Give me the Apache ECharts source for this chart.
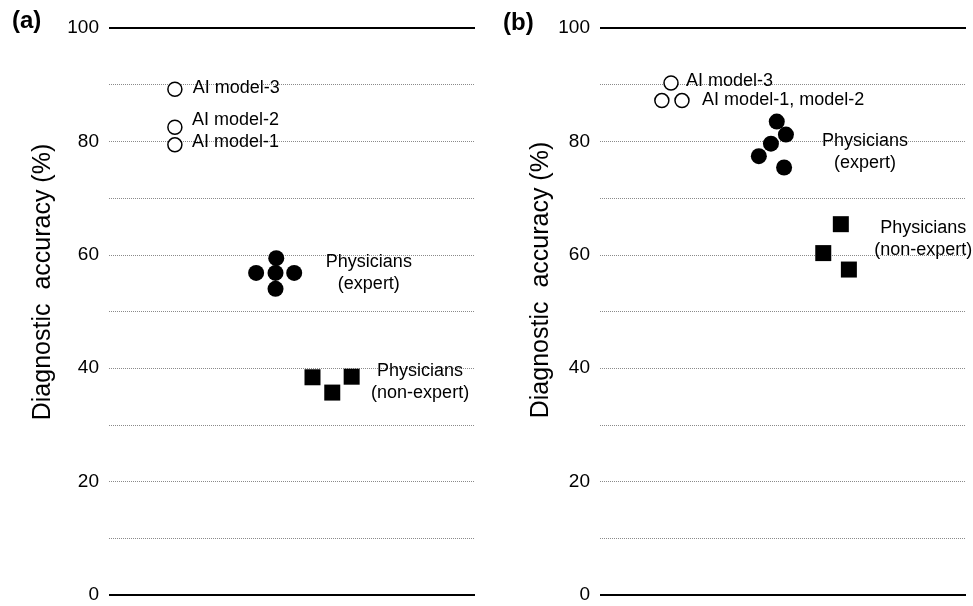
<!DOCTYPE html>
<html>
<head>
<meta charset="utf-8">
<script src="https://cdn.jsdelivr.net/npm/echarts@6/dist/echarts.min.js"></script>
<style>
  html, body { margin: 0; padding: 0; background: #fff; }
  #main { width: 973px; height: 606px; }
</style>
</head>
<body>
<div id="main"></div>
<script>
// y ticks (labels every 20, gridlines every 10)
var yTicks = [0, 20, 40, 60, 80, 100];

// panel (a): [x position, accuracy %]
var aAI = [[18.0, 89.2], [18.0, 82.5], [18.0, 79.4]];
var aExpert = [[45.7, 59.4], [40.2, 56.8], [45.5, 56.8], [50.6, 56.8], [45.5, 54.0]];
var aNonExpert = [[55.6, 38.4], [61.0, 35.7], [66.3, 38.5]];

// panel (b)
var bAI = [[19.4, 90.3], [16.9, 87.2], [22.4, 87.2]];
var bExpert = [[48.3, 83.5], [50.8, 81.2], [46.7, 79.6], [43.4, 77.4], [50.3, 75.4]];
var bNonExpert = [[65.8, 65.4], [61.0, 60.3], [68.0, 57.4]];

// annotation texts
var aNotes = [
  { text: 'AI model-3', at: [22.9, 89.4], align: 'left' },
  { text: 'AI model-2', at: [22.7, 83.8], align: 'left' },
  { text: 'AI model-1', at: [22.7, 79.9], align: 'left' },
  { text: 'Physicians\n(expert)', at: [71.0, 56.8], align: 'center' },
  { text: 'Physicians\n(non-expert)', at: [85.0, 37.6], align: 'center' }
];
var bNotes = [
  { text: 'AI model-3', at: [23.5, 90.7], align: 'left' },
  { text: 'AI model-1, model-2', at: [27.9, 87.3], align: 'left' },
  { text: 'Physicians\n(expert)', at: [72.4, 78.1], align: 'center' },
  { text: 'Physicians\n(non-expert)', at: [88.3, 62.8], align: 'center' }
];

var FONT = '"Liberation Sans", Arial, sans-serif';

var myChart = echarts.init(document.getElementById('main'));

function yAxisFor(idx) {
  return {
    type: 'value', gridIndex: idx, min: 0, max: 100, interval: 10,
    axisLine: { show: false },
    axisTick: { show: false },
    axisLabel: {
      margin: 10, fontSize: 19, color: '#000', fontFamily: FONT,
      padding: [8, 0, 0, 0],
      formatter: function (v) { return yTicks.indexOf(v) >= 0 ? String(v) : ''; }
    },
    splitLine: { show: true, lineStyle: { color: '#8a8a8a', width: 1, type: 'dotted' } }
  };
}

function xAxisFor(idx) {
  return { type: 'value', gridIndex: idx, min: 0, max: 100, show: false };
}

function pointSeries(idx, data, symbol, size, filled) {
  return {
    type: 'scatter', xAxisIndex: idx, yAxisIndex: idx,
    data: data, symbol: symbol, symbolSize: size,
    itemStyle: filled
      ? { color: '#000', opacity: 1 }
      : { color: '#fff', borderColor: '#000', borderWidth: 1.5, opacity: 1 },
    emphasis: { disabled: true },
    z: 5
  };
}

function noteSeries(idx, notes) {
  return {
    type: 'scatter', xAxisIndex: idx, yAxisIndex: idx,
    symbolSize: 0, silent: true, z: 6,
    itemStyle: { opacity: 1 },
    data: notes.map(function (n) {
      return {
        value: n.at,
        label: {
          show: true, position: 'inside', formatter: n.text,
          align: n.align, verticalAlign: 'middle',
          fontSize: 18, lineHeight: 22, color: '#000', fontFamily: FONT
        }
      };
    }),
    // solid frame lines at 0 and 100
    markLine: {
      silent: true, symbol: 'none', label: { show: false },
      lineStyle: { color: '#000', width: 2, type: 'solid', opacity: 1 },
      data: [{ yAxis: 0 }, { yAxis: 100 }]
    }
  };
}

var option = {
  backgroundColor: '#fff',
  animation: false,
  grid: [
    { left: 109, width: 366, top: 28, bottom: 11 },
    { left: 600, width: 366, top: 28, bottom: 11 }
  ],
  xAxis: [xAxisFor(0), xAxisFor(1)],
  yAxis: [yAxisFor(0), yAxisFor(1)],
  graphic: [
    { type: 'text', left: 12, top: 9, style: { text: '(a)', font: 'bold 24px ' + FONT, fill: '#000' } },
    { type: 'text', left: 503, top: 11, style: { text: '(b)', font: 'bold 24px ' + FONT, fill: '#000' } },
    { type: 'text', x: 43, y: 282, rotation: Math.PI / 2,
      style: { text: 'Diagnostic  accuracy (%)', font: '25px ' + FONT, fill: '#000', align: 'center', verticalAlign: 'middle' } },
    { type: 'text', x: 541, y: 280, rotation: Math.PI / 2,
      style: { text: 'Diagnostic  accuracy (%)', font: '25px ' + FONT, fill: '#000', align: 'center', verticalAlign: 'middle' } }
  ],
  series: [
    pointSeries(0, aAI, 'circle', 14, false),
    pointSeries(0, aExpert, 'circle', 16, true),
    pointSeries(0, aNonExpert, 'rect', 16, true),
    noteSeries(0, aNotes),
    pointSeries(1, bAI, 'circle', 14, false),
    pointSeries(1, bExpert, 'circle', 16, true),
    pointSeries(1, bNonExpert, 'rect', 16, true),
    noteSeries(1, bNotes)
  ]
};

myChart.setOption(option);
</script>
</body>
</html>
